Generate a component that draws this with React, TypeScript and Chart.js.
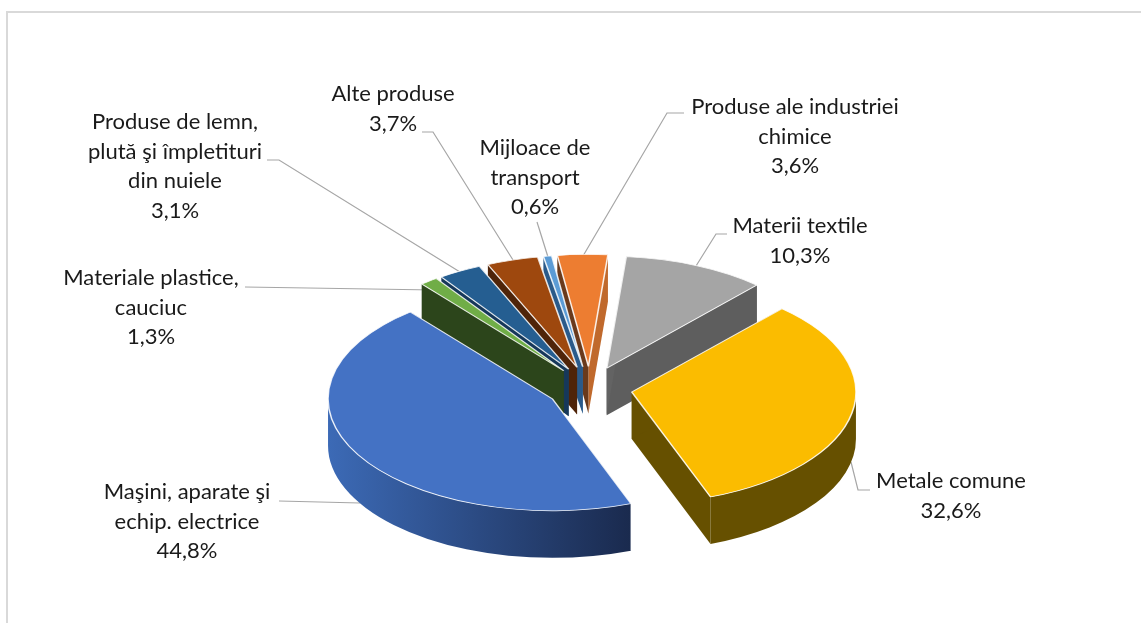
import { useEffect, useRef } from "react";
import { Chart, registerables } from "chart.js";

Chart.register(...registerables);

const categories = [
  ["Materii textile"],
  ["Metale comune"],
  ["Maşini, aparate şi", "echip. electrice"],
  ["Materiale plastice,", "cauciuc"],
  ["Produse de lemn,", "plută şi împletituri", "din nuiele"],
  ["Alte produse"],
  ["Mijloace de", "transport"],
  ["Produse ale industriei", "chimice"],
];
const shares = [10.3, 32.6, 44.8, 1.3, 3.1, 3.7, 0.6, 3.6];
const topColors = ["#A5A5A5", "#FBBC00", "#4472C4", "#70AD47", "#255E91", "#9E480E", "#5B9BD5", "#ED7D31"];
const startWallColors = ["#636363", "#665000", "#2F5597", "#2C451B", "#16385A", "#4F2409", "#2A5A8A", "#6A3A1C"];
const endWallColors = ["#5E5E5E", "#665000", "#1B2B4F", "#2C451B", "#1B456C", "#6E320A", "#3C6E9F", "#C0692C"];

// label block centre x, first-line centre y
const labelAnchors: [number, number][] = [
  [800, 226], [951, 481], [187, 492], [151, 278], [175, 122], [393, 94], [535, 148], [795, 107],
];
const leaders: [number, number][][] = [
  [[696, 266], [716, 234], [727, 234]],
  [[851, 462], [858, 490], [870, 490]],
  [[360, 503], [279, 501]],
  [[434, 290], [245, 287]],
  [[460, 272], [279, 160], [267, 160]],
  [[513, 260], [433, 132], [422, 132]],
  [[548, 257], [537, 222]],
  [[583, 256], [667, 113], [684, 113]],
];

const SQUASH = 0.5;
const EXPLODE = 43;
const DEPTH = 47;
const LINE_H = 29.5;
const FONT = '22px Lato, "Noto Sans", sans-serif';

const pie3d = {
  id: "pie3d",
  beforeDatasetsDraw(chart: any) {
    const ctx: CanvasRenderingContext2D = chart.ctx;
    ctx.save();
    ctx.strokeStyle = "#D9D9D9";
    ctx.lineWidth = 2;
    ctx.beginPath();
    ctx.moveTo(7, 623);
    ctx.lineTo(7, 12);
    ctx.lineTo(1141, 12);
    ctx.stroke();

    ctx.strokeStyle = "#A6A6A6";
    ctx.lineWidth = 1.2;
    leaders.forEach((pts) => {
      ctx.beginPath();
      pts.forEach(([x, y], i) => (i ? ctx.lineTo(x, y) : ctx.moveTo(x, y)));
      ctx.stroke();
    });

    const arcs = chart.getDatasetMeta(0).data.map((el: any, i: number) => {
      const mid = (el.startAngle + el.endAngle) / 2;
      return {
        el, i,
        ax: el.x + Math.cos(mid) * EXPLODE,
        ay: el.y + Math.sin(mid) * EXPLODE * SQUASH,
      };
    });
    arcs.sort((a: any, b: any) => a.ay - b.ay);

    arcs.forEach(({ el, i, ax, ay }: any) => {
      const R = el.outerRadius;
      const s = el.startAngle, e = el.endAngle;
      const px = (a: number) => ax + Math.cos(a) * R;
      const py = (a: number) => ay + Math.sin(a) * R * SQUASH;
      const quad = (a: number, color: string) => {
        ctx.fillStyle = color;
        ctx.beginPath();
        ctx.moveTo(ax, ay);
        ctx.lineTo(px(a), py(a));
        ctx.lineTo(px(a), py(a) + DEPTH);
        ctx.lineTo(ax, ay + DEPTH);
        ctx.closePath();
        ctx.fill();
      };
      quad(e, endWallColors[i]);
      quad(s, startWallColors[i]);

      for (let n = -1; n <= 2; n++) {
        const a0 = Math.max(s, n * 2 * Math.PI);
        const a1 = Math.min(e, n * 2 * Math.PI + Math.PI);
        if (a1 <= a0) continue;
        let fill: any = endWallColors[i];
        if (i === 2) {
          const g = ctx.createLinearGradient(ax - R, 0, px(a0), 0);
          g.addColorStop(0, "#3C6AB6");
          g.addColorStop(1, "#1A2A4E");
          fill = g;
        }
        ctx.fillStyle = fill;
        ctx.beginPath();
        ctx.ellipse(ax, ay, R, R * SQUASH, 0, a0, a1, false);
        ctx.ellipse(ax, ay + DEPTH, R, R * SQUASH, 0, a1, a0, true);
        ctx.closePath();
        ctx.fill();
      }

      if (Math.sin(s) > 0 && Math.cos(s) > 0) {
        ctx.strokeStyle = "rgba(255,255,255,0.75)";
        ctx.lineWidth = 1;
        ctx.beginPath();
        ctx.moveTo(px(s), py(s));
        ctx.lineTo(px(s), py(s) + DEPTH);
        ctx.stroke();
      }

      ctx.save();
      ctx.translate(ax, ay);
      ctx.scale(1, SQUASH);
      ctx.translate(-el.x, -el.y);
      el.draw(ctx);
      ctx.restore();
    });

    ctx.fillStyle = "#1A1A1A";
    ctx.font = FONT;
    ctx.textAlign = "center";
    ctx.textBaseline = "middle";
    categories.forEach((lines, i) => {
      const [x, y] = labelAnchors[i];
      const all = [...lines, shares[i].toFixed(1).replace(".", ",") + "%"];
      all.forEach((t, j) => ctx.fillText(t, x, y + j * LINE_H));
    });
    ctx.restore();
    return false;
  },
};

export default function App() {
  const ref = useRef<HTMLCanvasElement>(null);
  useEffect(() => {
    const chart = new Chart(ref.current!, {
      type: "pie",
      data: {
        labels: categories.map((c) => c.join(" ")),
        datasets: [{
          data: shares,
          backgroundColor: topColors,
          borderColor: "rgba(255,255,255,0.85)",
          borderWidth: 1.6,
        }],
      },
      options: {
        responsive: false,
        animation: false,
        rotation: 5,
        layout: { padding: { left: 364.5, right: 326.5, top: 163, bottom: 10 } },
        plugins: { legend: { display: false }, tooltip: { enabled: false } },
      },
      plugins: [pie3d],
    } as any);
    return () => chart.destroy();
  }, []);
  return (
    <canvas
      ref={ref}
      width={1141}
      height={623}
      style={{ position: "absolute", left: 0, top: 0, display: "block", background: "#fff" }}
    />
  );
}
